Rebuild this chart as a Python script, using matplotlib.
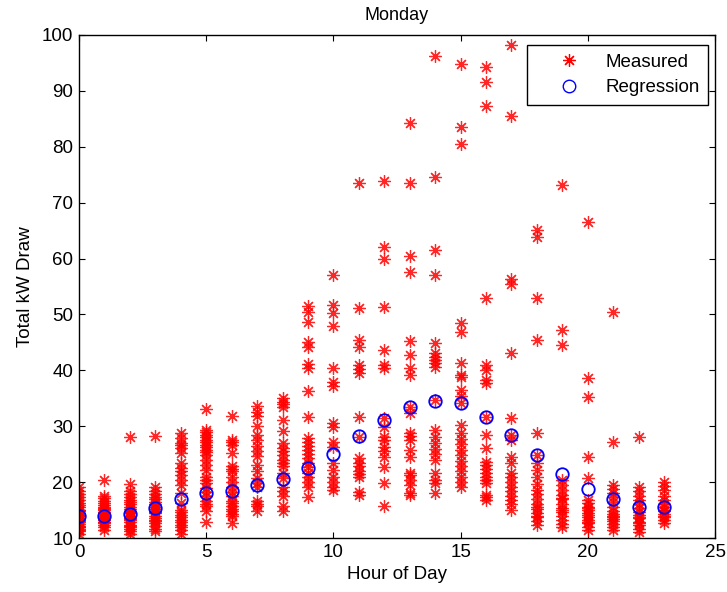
import numpy as np
import matplotlib.pyplot as plt
from matplotlib.lines import Line2D

plt.rcParams['font.family'] = ['Liberation Sans', 'DejaVu Sans']

# Measured kW draw per hour of day (Mondays)
hours = list(range(24))
measured = {
    0: [10.8, 11.2, 11.5, 11.9, 12.2, 12.5, 12.8, 13.0, 13.3, 13.6, 13.9, 14.2, 14.5, 14.8,
        15.1, 15.5, 15.9, 16.3, 16.8, 17.3, 17.9, 18.5, 19.2, 12.0, 13.4, 14.0, 15.0, 11.6],
    1: [11.5, 11.9, 12.3, 12.6, 12.9, 13.2, 13.5, 13.8, 14.1, 14.4, 14.7, 15.0, 15.3, 15.6,
        15.9, 16.3, 16.7, 17.1, 17.6, 20.3, 12.8, 14.0, 15.2],
    2: [10.8, 11.2, 11.6, 12.0, 12.4, 12.8, 13.2, 13.6, 14.0, 14.4, 14.8, 15.2, 15.6, 16.0,
        16.4, 16.8, 17.3, 17.8, 18.4, 19.7, 28.1, 12.2, 13.4, 14.6],
    3: [11.2, 11.7, 12.2, 12.7, 13.2, 13.6, 14.0, 14.4, 14.8, 15.2, 15.6, 16.0, 16.4, 16.9,
        17.4, 17.9, 18.5, 19.2, 28.3, 13.0, 14.6],
    4: [28.8, 27.9, 27.0, 26.1, 25.2, 23.4, 22.5, 21.3, 20.4, 19.5, 18.0, 16.3, 15.1, 14.2,
        13.3, 12.4, 11.5, 10.8, 13.8, 12.9, 11.9, 14.6, 26.6, 22.0],
    5: [33.0, 29.4, 28.5, 27.6, 26.7, 25.8, 24.9, 24.0, 23.1, 22.2, 21.0, 19.8, 18.9, 17.5,
        16.6, 15.7, 14.8, 12.8, 29.0, 28.0, 27.2, 26.2, 25.4, 20.4, 18.2, 16.0],
    6: [31.9, 27.6, 26.7, 25.2, 22.8, 21.9, 21.0, 20.1, 19.2, 17.5, 16.6, 15.7, 14.8, 13.9,
        12.7, 18.3, 16.2, 15.2, 14.3, 27.2, 22.3],
    7: [33.6, 31.8, 30.0, 27.6, 26.4, 24.6, 23.1, 21.9, 20.7, 19.2, 16.6, 15.7, 14.8, 32.6,
        28.5, 25.5, 19.8, 16.1],
    8: [35.0, 34.4, 33.4, 31.2, 29.1, 27.0, 26.1, 24.9, 24.0, 22.8, 20.7, 19.2, 17.5, 15.7,
        14.8, 25.5, 23.4, 21.6, 18.4, 34.0],
    9: [51.5, 50.4, 48.6, 45.0, 44.2, 41.2, 40.5, 36.3, 31.7, 27.9, 27.2, 26.5, 25.8, 25.0,
        24.3, 23.4, 22.7, 21.6, 20.9, 20.0, 19.1, 17.3],
    10: [57.0, 51.7, 50.3, 47.9, 40.4, 37.9, 37.2, 30.6, 29.8, 27.2, 26.3, 23.4, 22.2, 20.9,
         20.0, 19.1, 18.6],
    11: [73.5, 51.1, 45.4, 44.2, 40.9, 40.2, 39.5, 31.7, 28.1, 24.3, 23.5, 22.8, 22.0, 21.4,
         20.9, 17.7, 18.3],
    12: [73.9, 62.1, 59.9, 51.3, 43.6, 41.0, 40.4, 31.5, 29.9, 28.1, 27.5, 26.3, 25.5, 24.5,
         22.7, 19.8, 15.7],
    13: [84.2, 73.5, 60.4, 57.6, 45.2, 42.7, 40.4, 39.2, 33.4, 32.3, 28.8, 28.2, 27.5, 25.7,
         24.5, 21.6, 21.3, 20.4, 19.5, 18.0, 17.7],
    14: [96.2, 74.6, 61.5, 57.0, 44.9, 43.1, 42.4, 41.8, 41.3, 40.6, 34.7, 29.3, 28.1, 27.0,
         26.0, 25.0, 24.0, 21.6, 20.4, 19.8, 18.0],
    15: [94.8, 83.5, 80.5, 48.5, 46.8, 41.3, 39.2, 38.8, 36.5, 35.4, 34.1, 30.2, 28.8, 27.8,
         26.8, 25.7, 24.8, 23.8, 22.9, 22.0, 21.0, 20.1, 19.1],
    16: [94.3, 91.6, 87.3, 52.9, 41.0, 40.0, 38.3, 37.7, 31.7, 28.4, 26.1, 23.6, 23.0, 22.3,
         21.7, 21.0, 20.4, 19.8, 17.7, 17.3, 16.8],
    17: [98.2, 85.5, 56.3, 55.4, 43.1, 31.5, 28.4, 27.5, 24.5, 23.4, 21.6, 20.9, 20.0, 19.2,
         18.4, 17.6, 16.8, 16.0, 15.0],
    18: [65.1, 63.9, 52.9, 45.4, 28.8, 24.8, 23.4, 22.2, 20.9, 19.6, 18.6, 17.8, 16.9, 16.0,
         15.2, 14.4, 13.7, 13.0, 12.3, 14.0, 15.6],
    19: [73.1, 47.2, 44.5, 20.4, 19.5, 18.6, 17.7, 16.9, 16.1, 15.3, 14.6, 13.9, 13.2, 12.5,
         12.0, 17.2, 15.0],
    20: [66.5, 38.7, 35.2, 24.5, 20.7, 16.8, 16.2, 15.6, 15.0, 14.4, 13.8, 13.2, 12.6, 12.0,
         11.4, 15.3, 14.1, 12.9],
    21: [50.4, 27.2, 19.5, 18.8, 18.0, 17.3, 16.5, 15.5, 14.9, 14.3, 13.7, 13.1, 12.5, 11.9,
         11.4, 14.0, 13.4],
    22: [28.1, 19.1, 18.4, 17.6, 16.8, 16.0, 15.3, 14.7, 14.1, 13.5, 12.9, 12.3, 11.7, 11.0,
         13.8, 12.6],
    23: [20.0, 19.3, 18.6, 17.6, 16.8, 16.1, 15.5, 14.9, 14.3, 13.7, 13.2, 12.7, 15.0, 14.0],
}
regression = [13.9, 14.0, 14.3, 15.3, 17.0, 18.0, 18.5, 19.4, 20.6, 22.5, 25.0, 28.2,
              31.2, 33.4, 34.6, 34.1, 31.7, 28.4, 24.8, 21.4, 18.8, 17.0, 15.5, 15.5]

# flatten for plotting
mx = [h for h in hours for _ in measured[h]]
my = [v for h in hours for v in measured[h]]

star = (8, 2, 0)  # MATLAB-like asterisk
fs = 13.5

fig = plt.figure(figsize=(7.27, 5.92), dpi=100)
ax = fig.add_axes([0.1087, 0.0912, 0.8748, 0.8497])

ax.plot(mx, my, linestyle='none', marker=star, color='red',
        markersize=9, markeredgewidth=0.9, alpha=0.85)
ax.plot(hours, regression, linestyle='none', marker='o', markerfacecolor='none',
        markeredgecolor='blue', markersize=9, markeredgewidth=1.3)

ax.set_xlim(0, 25)
ax.set_ylim(10, 100)
ax.set_xticks(range(0, 26, 5))
ax.set_yticks(range(10, 101, 10))
ax.tick_params(direction='in', top=True, right=True, length=4, labelsize=fs, pad=4)
for s in ax.spines.values():
    s.set_linewidth(1.0)

ax.set_title('Monday', fontsize=13, pad=11)
ax.set_xlabel('Hour of Day', fontsize=fs, labelpad=4)
ax.set_ylabel('Total kW Draw', fontsize=fs, labelpad=6)

handles = [Line2D([], [], linestyle='none', marker=star, color='red', markersize=9,
                  markeredgewidth=0.9),
           Line2D([], [], linestyle='none', marker='o', markerfacecolor='none',
                  markeredgecolor='blue', markersize=9, markeredgewidth=1.0)]
leg = ax.legend(handles, ['Measured', 'Regression'], loc='upper right',
                bbox_to_anchor=(0.989, 0.980), borderaxespad=0, fancybox=False,
                edgecolor='black', fontsize=fs, handlelength=3.5, handletextpad=0.2,
                borderpad=0.45, labelspacing=0.45)
leg.get_frame().set_linewidth(1.0)
leg.get_frame().set_alpha(1)

fig.savefig('out.png', dpi=100)
